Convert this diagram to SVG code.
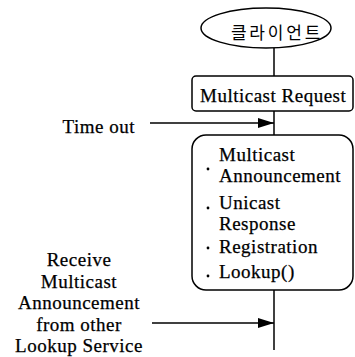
<svg xmlns="http://www.w3.org/2000/svg" width="355" height="357" viewBox="0 0 355 357">
  <style>
    .shape { fill: #fff; stroke: #000; stroke-width: 1.5; }
    .wire { fill: none; stroke: #000; stroke-width: 1.5; }
    .lbl { font-family: "Liberation Serif", "Times New Roman", serif; font-size: 19px; letter-spacing: 0.5px; fill: #000; stroke: #000; stroke-width: 0.25; }
    .ko { font-family: "Noto Sans CJK KR", "Noto Sans", sans-serif; font-size: 17px; fill: #000; letter-spacing: 2.8px; }
  </style>
  <defs>
    <marker id="tri" viewBox="0 0 16 10" refX="16" refY="5" markerWidth="16" markerHeight="10" markerUnits="userSpaceOnUse" orient="auto">
      <path d="M0,0 L16,5 L0,10 Z" fill="#000"/>
    </marker>
  </defs>

  <rect width="355" height="357" fill="#fff"/>

  <!-- connectors -->
  <g id="connectors">
    <line class="wire" x1="274" y1="48" x2="274" y2="76"/>
    <line class="wire" x1="274" y1="111" x2="274" y2="135"/>
    <line class="wire" x1="274" y1="290" x2="274" y2="350"/>
    <line class="wire" x1="150" y1="123" x2="274" y2="123" marker-end="url(#tri)"/>
    <line class="wire" x1="152" y1="323" x2="274" y2="323" marker-end="url(#tri)"/>
  </g>

  <!-- client -->
  <g id="client">
    <ellipse class="shape" cx="266" cy="28" rx="65" ry="20"/>
    <text class="ko" x="277" y="39" text-anchor="middle">클라이언트</text>
  </g>

  <!-- multicast request -->
  <g id="multicast-request">
    <rect class="shape" x="192" y="76" width="161" height="35" rx="4"/>
    <text class="lbl" x="200" y="102">Multicast Request</text>
  </g>

  <!-- lookup service actions -->
  <g id="actions">
    <rect class="shape" x="192" y="135" width="161" height="155" rx="14"/>
    <circle cx="208" cy="169" r="1.4"/>
    <text class="lbl" x="219" y="161">Multicast</text>
    <text class="lbl" x="219" y="182">Announcement</text>
    <circle cx="208" cy="208" r="1.4"/>
    <text class="lbl" x="219" y="209">Unicast</text>
    <text class="lbl" x="219" y="230">Response</text>
    <circle cx="208" cy="248" r="1.4"/>
    <text class="lbl" x="219" y="253">Registration</text>
    <circle cx="208" cy="276" r="1.4"/>
    <text class="lbl" x="219" y="278">Lookup()</text>
  </g>

  <!-- event labels -->
  <g id="timeout">
    <text class="lbl" x="135" y="133" text-anchor="end">Time out</text>
  </g>
  <g id="receive-announcement">
    <text class="lbl" x="79" y="266" text-anchor="middle">Receive</text>
    <text class="lbl" x="79" y="288" text-anchor="middle">Multicast</text>
    <text class="lbl" x="79" y="309" text-anchor="middle">Announcement</text>
    <text class="lbl" x="79" y="331" text-anchor="middle">from other</text>
    <text class="lbl" x="79" y="352" text-anchor="middle">Lookup Service</text>
  </g>
</svg>
